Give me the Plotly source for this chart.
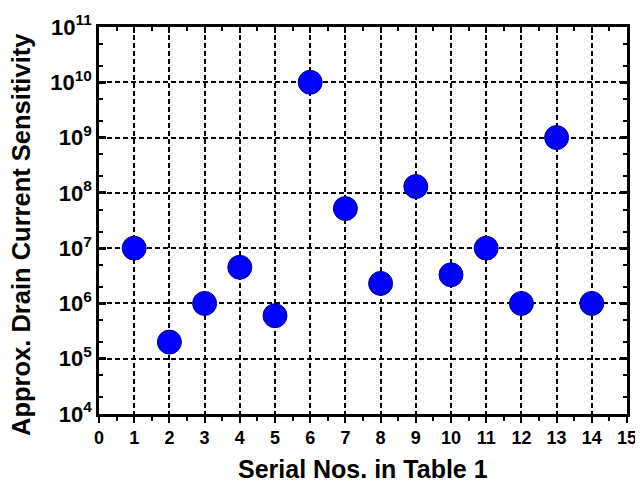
import plotly.graph_objects as go

serial = [1, 2, 3, 4, 5, 6, 7, 8, 9, 10, 11, 12, 13, 14]
sensitivity = [1e7, 2e5, 1e6, 4.5e6, 6e5, 1e10, 5.2e7, 2.3e6, 1.3e8, 3.3e6, 1e7, 1e6, 1e9, 1e6]
x_ticks = list(range(0, 16))
y_exps = list(range(4, 12))
x_title = "Serial Nos. in Table 1"
y_title = "Approx. Drain Current Sensitivity"

font = "Liberation Sans, Arial, sans-serif"

fig = go.Figure()
fig.add_trace(go.Scatter(
    x=serial, y=sensitivity, mode="markers",
    marker=dict(size=24, color="#0000FF", line=dict(color="#00008B", width=1)),
    showlegend=False,
))
# dummy trace for top axis
fig.add_trace(go.Scatter(x=[0, 15], y=[1e4, 1e4], xaxis="x2", mode="markers",
                         marker=dict(opacity=0), showlegend=False, hoverinfo="skip"))

fig.update_layout(
    width=635, height=476,
    margin=dict(l=91, r=16, t=19, b=70),
    paper_bgcolor="white", plot_bgcolor="white",
    font=dict(family=font, color="black"),
    xaxis=dict(
        range=[0, 15], tickvals=x_ticks, ticktext=["<b>%d</b>" % v for v in x_ticks],
        ticks="outside", ticklen=6, tickwidth=2, tickcolor="black",
        minor=dict(dtick=0.5, ticks="outside", ticklen=4, tickwidth=2, tickcolor="black", showgrid=False),
        showline=True, linewidth=2.5, linecolor="black", mirror=False,
        showgrid=True, gridcolor="black", griddash="5px,3px", gridwidth=1.5,
        tickfont=dict(size=18, family=font),
        zeroline=False, layer="above traces", automargin=False,
    ),
    xaxis2=dict(
        range=[0, 15], overlaying="x", side="top", tickvals=x_ticks, showticklabels=False,
        ticks="inside", ticklen=6, tickwidth=2, tickcolor="black",
        minor=dict(dtick=0.5, ticks="inside", ticklen=4, tickwidth=2, tickcolor="black", showgrid=False),
        showline=True, linewidth=2.5, linecolor="black", showgrid=False, zeroline=False,
        automargin=False,
    ),
    yaxis=dict(
        type="log", range=[4, 11],
        tickvals=[10 ** e for e in y_exps],
        ticktext=["<b>10<sup>%d</sup></b>" % e for e in y_exps],
        ticks="inside", ticklen=7, tickwidth=2.5, tickcolor="black",
        minor=dict(ticks="inside", ticklen=4, tickwidth=1.5, tickcolor="black", showgrid=False),
        showline=True, linewidth=2.5, linecolor="black", mirror="ticks",
        showgrid=True, gridcolor="black", griddash="5px,3px", gridwidth=1.5,
        tickfont=dict(size=22, family=font),
        zeroline=False, layer="above traces", automargin=False,
    ),
    annotations=[
        dict(text="<b>%s</b>" % x_title, xref="paper", yref="paper", x=0.5, y=0,
             xanchor="center", yanchor="middle", yshift=-55, showarrow=False,
             font=dict(size=25, family=font, color="black")),
        dict(text="<b>%s</b>" % y_title, xref="paper", yref="paper", x=0, y=0.4625,
             xanchor="center", yanchor="middle", xshift=-78, textangle=-90, showarrow=False,
             font=dict(size=25.5, family=font, color="black")),
    ],
)

fig.write_html("out.html")
